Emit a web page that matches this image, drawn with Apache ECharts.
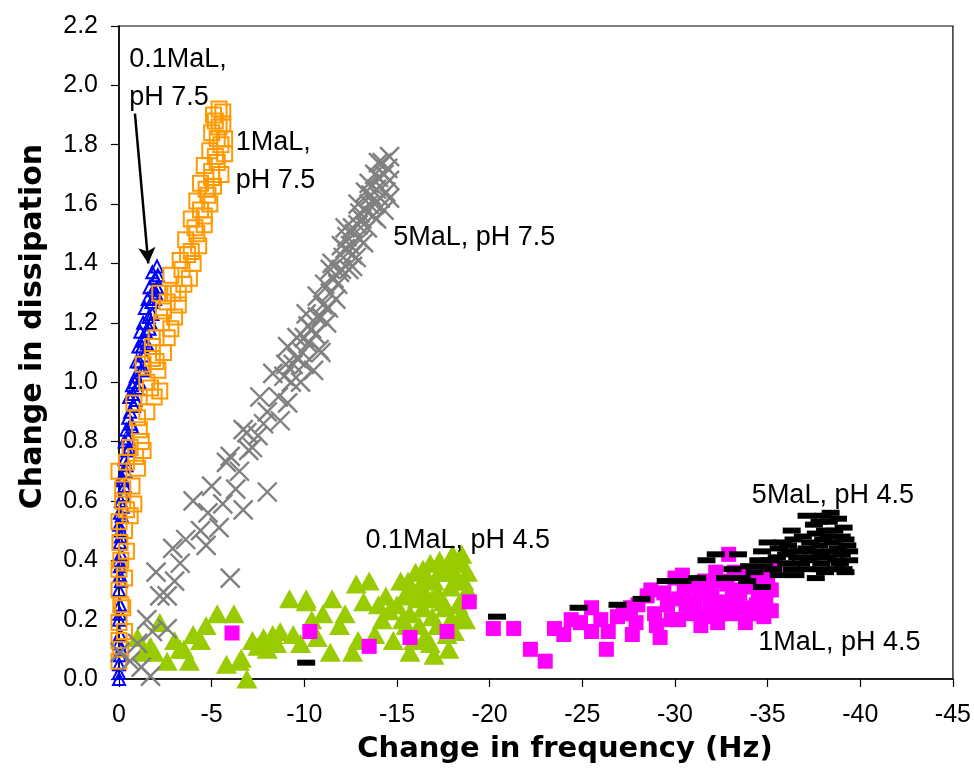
<!DOCTYPE html>
<html>
<head>
<meta charset="utf-8">
<script src="https://cdn.jsdelivr.net/npm/echarts@6/dist/echarts.min.js"></script>
<style>
html,body{margin:0;padding:0;background:#fff;}
#chart{width:974px;height:771px;}
</style>
</head>
<body>
<div id="chart"></div>
<script>
// ---- Data (frequency change in Hz, dissipation change) ----
const xTicks = [0, -5, -10, -15, -20, -25, -30, -35, -40, -45];
const yTicks = [0.0, 0.2, 0.4, 0.6, 0.8, 1.0, 1.2, 1.4, 1.6, 1.8, 2.0, 2.2];

const ma01_pH75 = [
  [0,0],[0,0.02],[0,0.05],[-0.05,0.08],[0,0.12],[-0.05,0.15],[0,0.2],[-0.05,0.25],[0,0.3],
  [-0.1,0.33],[-0.05,0.38],[-0.1,0.42],[-0.05,0.46],[-0.1,0.5],[-0.15,0.55],[-0.1,0.6],
  [-0.25,0.62],[-0.2,0.67],[-0.35,0.7],[-0.3,0.74],[-0.45,0.77],[-0.5,0.81],[-0.4,0.84],
  [-0.65,0.86],[-0.6,0.9],[-0.8,0.92],[-0.75,0.96],[-1.0,0.98],[-0.9,1.02],[-1.2,1.04],
  [-1.1,1.07],[-1.35,1.09],[-1.25,1.12],[-1.5,1.13],[-1.45,1.17],[-1.65,1.18],[-1.6,1.22],
  [-1.8,1.23],[-1.75,1.27],[-1.95,1.28],[-1.85,1.31],[-2.05,1.32],[-1.95,1.35],[-2.1,1.36],
  [-2.05,1.39],[-0.55,0.95],[-0.3,0.8],[-0.15,0.68],[-0.05,0.56],[0,0.4],[-0.1,0.1],
  [-0.05,0.22],[-0.85,1.0],[-1.05,1.12],[-1.3,1.2],[-1.55,1.28],
  [-0.2,0.58],[-0.3,0.65],[-0.4,0.72],[-0.55,0.78],[-0.7,0.85],[-0.5,0.88],[-0.9,0.94],
  [-0.7,0.99],[-1.1,1.0],[-0.95,1.07],[-1.3,1.14],[-1.15,1.17],[-1.4,1.25],[-1.65,1.32],
  [-1.8,1.37],[-2.0,1.3],[-1.7,1.2],[-1.35,1.04],[-0.1,0.48],[0,0.52],[-0.05,0.35]
];

const ma1_pH75 = [
  [0,0.06],[0,0.13],[0,0.19],[-0.2,0.24],[0,0.3],[0,0.37],[-0.05,0.46],[-0.4,0.43],
  [0,0.53],[-0.4,0.57],[-0.8,0.59],[-0.2,0.64],[0,0.7],[-0.4,0.73],[-1.0,0.71],
  [-0.6,0.78],[-1.3,0.77],[-1.1,0.84],[-0.8,0.93],[-1.5,0.9],[-1.7,0.98],[-2.2,0.97],
  [-1.3,1.06],[-2.0,1.07],[-2.6,1.15],[-1.8,1.12],[-2.3,1.2],[-3.0,1.22],[-2.6,1.27],
  [-2.2,1.3],[-3.2,1.3],[-2.8,1.36],[-3.8,1.35],[-3.3,1.41],[-3.9,1.44],[-3.6,1.48],
  [-4.2,1.5],[-3.9,1.55],[-4.6,1.56],[-4.2,1.61],[-4.8,1.63],[-4.4,1.67],[-5.0,1.69],
  [-4.6,1.73],[-5.3,1.74],[-4.9,1.78],[-5.5,1.8],[-5.0,1.84],[-5.4,1.86],[-5.1,1.9],
  [-5.6,1.91],[-5.4,1.92],[-5.7,1.77],
  [-0.3,0.5],[-0.6,0.55],[-0.2,0.6],[-0.7,0.65],[-0.9,0.75],[-1.2,0.8],[-1.0,0.88],
  [-1.9,0.95],[-1.5,1.0],[-2.1,1.04],[-1.8,1.08],[-2.4,1.1],[-2.0,1.15],[-2.8,1.18],
  [-2.4,1.24],[-3.2,1.26],[-2.9,1.3],[-3.5,1.33],[-3.4,1.38],[-4.0,1.4],[-3.7,1.43],
  [-4.3,1.46],[-4.1,1.52],[-4.6,1.53],[-4.4,1.58],[-4.9,1.6],[-4.7,1.65],[-5.1,1.66],
  [-5.0,1.71],[-5.5,1.7],[-5.2,1.76],[-5.7,1.82],[-5.3,1.82],[-5.6,1.87],[-5.2,1.88],
  [-0.1,0.1],[-0.3,0.16],[-0.1,0.25],[-0.3,0.34],[-0.1,0.4]
];

const ma5_pH75 = [
  [-1.7,0.01],[-0.05,0.09],[-1.5,0.2],[-2.6,0.17],[-2.0,0.36],[-3.3,0.39],[-2.9,0.44],
  [-4.4,0.5],[-4.0,0.6],[-6.0,0.34],[-5.4,0.51],[-6.7,0.57],[-8.0,0.63],[-5.8,0.73],
  [-6.5,0.7],[-7.2,0.78],[-6.9,0.83],[-8.0,0.9],[-8.7,0.87],[-9.1,0.93],[-9.8,1.0],
  [-10.5,1.04],[-10.8,1.11],[-6.0,0.75],[-6.7,0.84],[-7.6,0.95],[-8.3,1.03],[-9.1,1.12],
  [-10.1,1.23],[-10.7,1.29],[-11.5,1.4],[-12.3,1.49],[-13.0,1.57],[-14.6,1.68],[-14.2,1.74],
  [-3.6,0.47],[-4.8,0.56],[-5.0,0.65],[-7.5,0.82],[-9.4,1.06],[-11.2,1.2],[-11.8,1.33],
  [-12.6,1.43],[-13.4,1.52],[-13.8,1.6],[-14.4,1.64],[-12.0,1.38],[-13.2,1.47],[-10.0,1.15],
  [-1.0,0.12],[-2.2,0.28],
  [-9.3,1.0],[-9.6,1.08],[-9.9,1.1],[-10.2,1.13],[-10.4,1.18],[-10.6,1.16],[-10.9,1.22],
  [-11.0,1.26],[-11.3,1.25],[-11.4,1.3],[-11.6,1.35],[-11.9,1.37],[-12.1,1.42],[-12.2,1.45],
  [-12.5,1.46],[-12.7,1.5],[-12.9,1.53],[-13.1,1.55],[-13.3,1.58],[-13.5,1.6],[-13.6,1.63],
  [-13.9,1.65],[-14.0,1.69],[-14.3,1.7],[-14.5,1.72],[-14.1,1.62],[-13.7,1.56],[-12.8,1.42],
  [-12.4,1.38],[-11.7,1.28],[-10.9,1.1],[-8.6,0.95],[-8.9,1.02],[-7.8,0.86],[-7.0,0.77],
  [-6.3,0.64],[-5.6,0.59],[-4.7,0.45],[-3.0,0.33],[-2.6,0.28],[-1.8,0.16],[-0.6,0.06],
  [-1.2,0.04],[-14.3,1.58],[-13.0,1.48],
  [-12.0,1.46],[-12.6,1.52],[-13.3,1.64],[-13.8,1.7],[-14.6,1.76],[-14.0,1.74],[-13.5,1.67],
  [-12.9,1.6],[-12.2,1.52],[-11.4,1.38],[-10.7,1.22],[-10.2,1.19],[-9.6,1.15],[-9.0,1.06],
  [-10.0,1.06],[-11.1,1.33],[-12.6,1.39],[-13.9,1.55],[-14.6,1.62]
];

const ma01_pH45 = [
  [-1.7,0.11],[-2.6,0.06],[-3.5,0.1],[-3.8,0.06],[-2.2,0.19],[-4.4,0.13],[-4.7,0.18],
  [-5.3,0.22],[-6.2,0.22],[-5.8,0.05],[-6.5,0.06],[-6.9,0.0],[-7.2,0.13],[-7.8,0.14],
  [-8.3,0.15],[-8.7,0.16],[-9.2,0.27],[-9.4,0.15],[-8.5,0.12],[-10.1,0.27],[-10.7,0.14],
  [-11.4,0.09],[-11.5,0.27],[-11.9,0.18],[-12.6,0.09],[-12.8,0.32],[-13.5,0.33],
  [-13.2,0.26],[-14.2,0.2],[-14.4,0.28],[-15.2,0.33],[-14.8,0.13],[-15.7,0.09],[-15.7,0.22],
  [-16.2,0.31],[-16.8,0.39],[-17.3,0.4],[-18.0,0.42],[-18.5,0.42],[-16.9,0.27],[-17.9,0.31],
  [-18.6,0.27],[-18.4,0.21],[-17.7,0.15],[-16.2,0.18],[-16.9,0.21],[-17.7,0.36],
  [-18.8,0.36],[-16.6,0.34],[-16.1,0.27],[-15.5,0.18],[-1.3,0.09],[-3.3,0.1],[-1.9,0.09],
  [-6.6,0.07],[-10.1,0.26],[-17.2,0.29],[-17.6,0.24],[-18.2,0.33],[-16.4,0.24],[-15.8,0.3],
  [-15.0,0.25],[-15.4,0.28],[-15.6,0.33],[-16.0,0.36],[-16.4,0.37],[-16.6,0.28],[-17.0,0.33],
  [-17.3,0.36],[-17.5,0.26],[-17.8,0.38],[-18.1,0.36],[-18.3,0.39],[-18.6,0.33],[-18.8,0.3],
  [-18.3,0.25],[-17.9,0.2],[-17.2,0.18],[-16.5,0.14],[-15.9,0.13],[-15.3,0.2],[-14.6,0.23],
  [-14.0,0.25],[-13.8,0.15],[-12.2,0.22],[-11.0,0.22],[-10.4,0.2],[-9.8,0.12],[-8.0,0.1],
  [-7.5,0.11],[-4.0,0.15],[-3.0,0.13],[-1.0,0.14],[-12.9,0.13],[-17.0,0.08],[-17.8,0.1],
  [-18.1,0.16],[-16.8,0.12],[-18.5,0.39],[-18.7,0.2]
];

const ma1_pH45 = [
  [-6.1,0.155],[-10.3,0.16],[-13.5,0.11],[-15.7,0.14],[-17.7,0.16],[-18.9,0.26],[-20.2,0.17],
  [-21.3,0.17],[-22.2,0.1],[-23.0,0.06],[-23.5,0.17],[-24.0,0.15],[-24.4,0.2],[-25.5,0.16],
  [-25.5,0.24],[-26.3,0.1],[-26.4,0.16],[-26.9,0.21],[-27.7,0.15],[-27.6,0.24],[-28.5,0.28],
  [-29.2,0.14],[-29.8,0.2],[-30.0,0.34],[-29.4,0.29],[-30.5,0.3],[-30.9,0.22],[-31.1,0.26],
  [-31.6,0.33],[-32.0,0.28],[-32.3,0.19],[-32.9,0.42],[-33.1,0.3],[-33.6,0.24],[-33.8,0.19],
  [-34.1,0.33],[-34.5,0.28],[-34.9,0.36],[-35.2,0.3],[-35.4,0.39],[-35.2,0.23],[-34.1,0.22],
  [-33.2,0.36],[-32.5,0.33],[-31.6,0.21],[-30.4,0.35],[-28.7,0.3],[-27.2,0.22],
  [-28.0,0.25],[-28.9,0.22],[-29.6,0.25],[-30.2,0.27],[-30.8,0.32],[-31.3,0.29],[-31.9,0.24],
  [-32.6,0.26],[-33.0,0.22],[-33.5,0.29],[-33.9,0.31],[-34.4,0.25],[-34.8,0.21],[-35.0,0.33],
  [-34.6,0.34],[-33.8,0.35],[-32.8,0.32],[-32.2,0.36],[-31.4,0.18],[-30.2,0.2],[-29.0,0.18],
  [-27.9,0.19],[-26.0,0.2],[-24.9,0.19],[-30.6,0.25],[-31.8,0.31],[-33.3,0.26],[-34.9,0.27],
  [-32.4,0.22]
];

const ma5_pH45 = [
  [-10.1,0.055],[-20.4,0.21],[-24.8,0.24],[-26.9,0.25],[-28.2,0.27],
  [-29.5,0.33],[-30.4,0.33],[-31.2,0.34],[-31.7,0.4],[-32.2,0.42],[-33.4,0.42],[-32.7,0.34],
  [-33.6,0.34],[-34.7,0.31],[-34.7,0.43],[-33.1,0.37],[-34.0,0.38],[-34.5,0.4],[-35.6,0.35],
  [-35.6,0.44],[-36.3,0.5],[-37.1,0.55],[-36.5,0.35],[-37.6,0.34],[-37.1,0.37],[-36.8,0.39],
  [-36.0,0.39],[-36.0,0.42],[-35.8,0.46],[-36.7,0.43],[-37.8,0.45],[-38.3,0.48],[-38.8,0.54],
  [-38.3,0.53],[-39.1,0.51],[-39.2,0.47],[-39.4,0.43],[-39.4,0.4],[-39.1,0.37],[-37.9,0.39],
  [-37.9,0.42],[-38.4,0.43],[-38.7,0.4],[-38.8,0.44],[-37.6,0.49],[-38.1,0.5],[-37.4,0.41],
  [-37.1,0.44],[-36.1,0.45],[-38.1,0.36],[-38.7,0.37],[-35.1,0.4],[-34.3,0.36],
  [-36.4,0.47],[-36.9,0.48],[-37.3,0.46],[-37.5,0.52],[-37.8,0.53],[-38.0,0.47],[-38.5,0.46],
  [-38.6,0.5],[-39.0,0.48],[-39.3,0.45],[-39.0,0.42],[-38.2,0.41],[-37.6,0.43],[-37.2,0.4],
  [-36.6,0.41],[-36.3,0.37],[-35.3,0.37],[-34.8,0.38],[-33.9,0.33],[-35.0,0.46],[-38.9,0.39],
  [-39.2,0.36],[-37.9,0.37],[-36.2,0.43],[-35.5,0.41],[-38.4,0.56],[-38.0,0.55]
];

// annotation text anchors given in data coordinates (left / top of text)
const notes = [
  {text: '0.1MaL,\npH 7.5', at: [-0.55, 2.15]},
  {text: '1MaL,\npH 7.5', at: [-6.3, 1.87]},
  {text: '5MaL, pH 7.5', at: [-14.8, 1.55]},
  {text: '0.1MaL, pH 4.5', at: [-13.3, 0.53]},
  {text: '5MaL, pH 4.5', at: [-34.15, 0.682]},
  {text: '1MaL, pH 4.5', at: [-34.5, 0.188]}
];
const arrowFrom = [-0.86, 1.905];
const arrowTo = [-1.58, 1.40];

const chart = echarts.init(document.getElementById('chart'), null, {renderer: 'canvas'});
const tickFont = '"Liberation Sans", Arial, sans-serif';
const titleFont = '"DejaVu Sans", sans-serif';

const option = {
  animation: false,
  backgroundColor: '#ffffff',
  grid: {left: 119, right: 21, top: 26, bottom: 92, show: true, borderColor: '#000', borderWidth: 1.2},
  xAxis: {
    type: 'value', min: -45, max: 0, interval: 5, inverse: true,
    axisLine: {show: true, onZero: false, lineStyle: {color: '#000', width: 1.5}},
    axisTick: {show: true, inside: false, length: 8, lineStyle: {color: '#000', width: 1.2}},
    splitLine: {show: false},
    axisLabel: {color: '#000', fontSize: 25, fontFamily: tickFont, margin: 24,
      formatter: v => (xTicks.indexOf(v) >= 0 ? String(v) : '')},
    name: 'Change in frequency (Hz)', nameLocation: 'middle', nameGap: 56,
    nameTextStyle: {color: '#000', fontSize: 29, fontWeight: 'bold', fontFamily: titleFont, padding: [0, 0, 0, 58]}
  },
  yAxis: {
    type: 'value', min: 0, max: 2.2, interval: 0.2,
    axisLine: {show: true, onZero: false, lineStyle: {color: '#000', width: 1.5}},
    axisTick: {show: true, inside: false, length: 8, lineStyle: {color: '#000', width: 1.2}},
    splitLine: {show: false},
    axisLabel: {color: '#000', fontSize: 25, fontFamily: tickFont, margin: 21,
      formatter: v => Number(v).toFixed(1)},
    name: 'Change in dissipation', nameLocation: 'middle', nameGap: 71, nameRotate: 90,
    nameTextStyle: {color: '#000', fontSize: 30, fontWeight: 'bold', fontFamily: titleFont, padding: [0, 0, 0, 52]}
  },
  series: [
    {
      name: '0.1MaL, pH 4.5', type: 'scatter', data: ma01_pH45, symbol: 'triangle', symbolSize: [21, 19],
      itemStyle: {color: '#99cc00', opacity: 1}, z: 2
    },
    {
      name: '1MaL, pH 4.5', type: 'scatter', data: ma1_pH45, symbol: 'rect', symbolSize: 15,
      itemStyle: {color: '#ff00ff', opacity: 1}, z: 3
    },
    {
      name: '5MaL, pH 4.5', type: 'scatter', data: ma5_pH45, symbol: 'rect', symbolSize: [18, 6],
      itemStyle: {color: '#000000', opacity: 1}, z: 4
    },
    {
      name: '0.1MaL, pH 7.5', type: 'scatter', data: ma01_pH75, symbol: 'triangle', symbolSize: 12,
      itemStyle: {color: 'rgba(0,0,0,0)', borderColor: '#0000ff', borderWidth: 2, opacity: 1}, z: 5,
      markLine: {
        silent: true, symbol: ['none', 'arrow'], symbolSize: [13, 16], animation: false,
        label: {show: false},
        lineStyle: {color: '#000', width: 2.5, type: 'solid'},
        data: [[{coord: arrowFrom}, {coord: arrowTo}]]
      }
    },
    {
      name: '1MaL, pH 7.5', type: 'scatter', data: ma1_pH75, symbol: 'rect', symbolSize: 15,
      itemStyle: {color: 'rgba(0,0,0,0)', borderColor: '#ff9900', borderWidth: 2, opacity: 1}, z: 6
    },
    {
      name: '5MaL, pH 7.5', type: 'scatter', data: ma5_pH75, symbol: 'path://M0,0L10,10M0,10L10,0', symbolSize: 19,
      itemStyle: {color: 'rgba(0,0,0,0)', borderColor: '#808080', borderWidth: 2.4, opacity: 1}, z: 7
    }
  ]
};
chart.setOption(option);

const g = notes.map(n => {
  const p = chart.convertToPixel({gridIndex: 0}, n.at);
  return {
    type: 'text', left: p[0], top: p[1], z: 100,
    style: {text: n.text, fill: '#000', font: '27px "Liberation Sans", Arial, sans-serif', lineHeight: 38}
  };
});
chart.setOption({graphic: g});
</script>
</body>
</html>
